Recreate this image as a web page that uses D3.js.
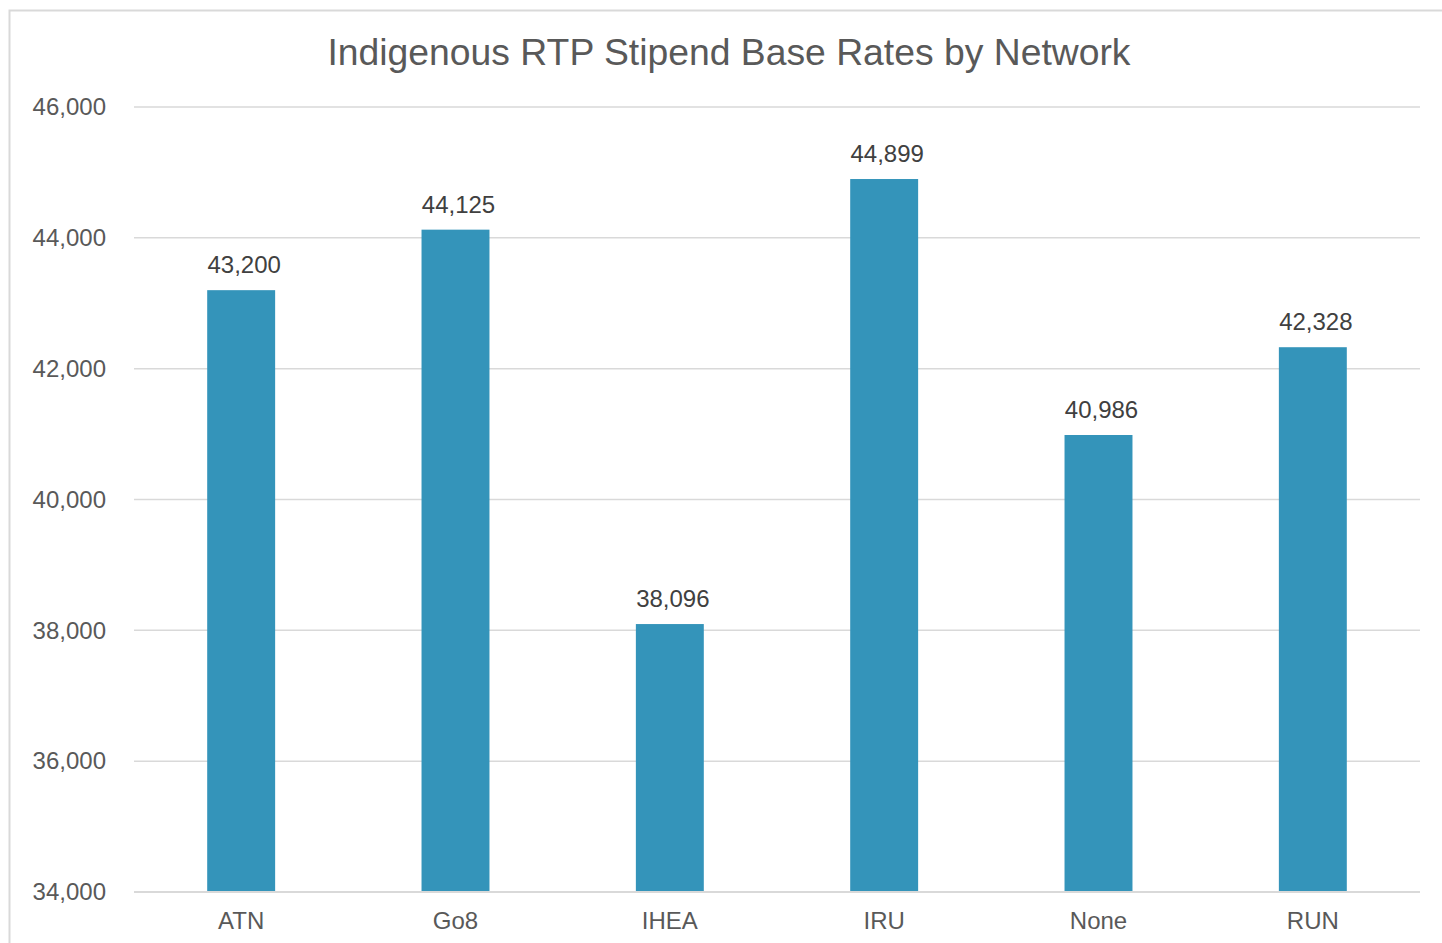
<!DOCTYPE html>
<html>
<head>
<meta charset="utf-8">
<script src="https://cdn.jsdelivr.net/npm/d3@7"></script>
<style>
  body { margin: 0; background: #fff; }
  svg { display: block; font-family: "Liberation Sans", Arial, sans-serif; }
</style>
</head>
<body>
<div id="chart"></div>
<script>
// data
const networks = ["ATN", "Go8", "IHEA", "IRU", "None", "RUN"];
const baseRates = [43200, 44125, 38096, 44899, 40986, 42328];
const yTicks = [34000, 36000, 38000, 40000, 42000, 44000, 46000];

const width = 1442, height = 943;
const margin = { top: 107, right: 22, bottom: 51, left: 134 };

const svg = d3.select("#chart").append("svg")
    .attr("width", width)
    .attr("height", height);

// chart border
svg.append("rect")
    .attr("x", 9.5).attr("y", 10.5)
    .attr("width", width + 10).attr("height", height + 10)
    .attr("fill", "none")
    .attr("stroke", "#d9d9d9")
    .attr("stroke-width", 2);

const x = d3.scaleBand()
    .domain(networks)
    .range([margin.left, width - margin.right])
    .paddingInner(0.683)
    .paddingOuter(0.3415);

const y = d3.scaleLinear()
    .domain([34000, 46000])
    .range([height - margin.bottom, margin.top]);

const fmt = d3.format(",");

// gridlines
svg.append("g")
    .selectAll("line")
    .data(yTicks)
    .enter()
    .append("line")
    .attr("x1", margin.left)
    .attr("x2", width - margin.right)
    .attr("y1", d => y(d))
    .attr("y2", d => y(d))
    .attr("stroke", "#d9d9d9")
    .attr("stroke-width", 1.5);

// y axis
const yAxis = svg.append("g")
    .attr("transform", `translate(${margin.left},0)`)
    .call(d3.axisLeft(y).tickValues(yTicks).tickFormat(fmt).tickSize(0).tickPadding(28));
yAxis.select(".domain").remove();
yAxis.selectAll("text")
    .attr("fill", "#595959")
    .style("font-size", "24px")
    .style("font-family", "'Liberation Sans', Arial, sans-serif");

// bars
svg.append("g")
    .selectAll("rect")
    .data(networks)
    .enter()
    .append("rect")
    .attr("x", d => x(d))
    .attr("width", x.bandwidth())
    .attr("y", (d, i) => y(baseRates[i]))
    .attr("height", (d, i) => y(34000) - y(baseRates[i]))
    .attr("fill", "#3494ba");

// axis baseline
svg.append("line")
    .attr("x1", margin.left)
    .attr("x2", width - margin.right)
    .attr("y1", y(34000))
    .attr("y2", y(34000))
    .attr("stroke", "#d9d9d9")
    .attr("stroke-width", 2);

// x axis labels
const xAxis = svg.append("g")
    .attr("transform", `translate(0,${y(34000)})`)
    .call(d3.axisBottom(x).tickSize(0).tickPadding(20));
xAxis.select(".domain").remove();
xAxis.selectAll("text")
    .attr("fill", "#595959")
    .style("font-size", "24px")
    .style("font-family", "'Liberation Sans', Arial, sans-serif");

// data labels
svg.append("g")
    .selectAll("text")
    .data(networks)
    .enter()
    .append("text")
    .attr("x", d => x(d) + x.bandwidth() / 2 + 3)
    .attr("y", (d, i) => y(baseRates[i]) - 17)
    .attr("text-anchor", "middle")
    .attr("fill", "#404040")
    .style("font-size", "24px")
    .text((d, i) => fmt(baseRates[i]));

// title
svg.append("text")
    .attr("x", 729)
    .attr("y", 65)
    .attr("text-anchor", "middle")
    .attr("fill", "#595959")
    .style("font-size", "37.3px")
    .text("Indigenous RTP Stipend Base Rates by Network");
</script>
</body>
</html>
